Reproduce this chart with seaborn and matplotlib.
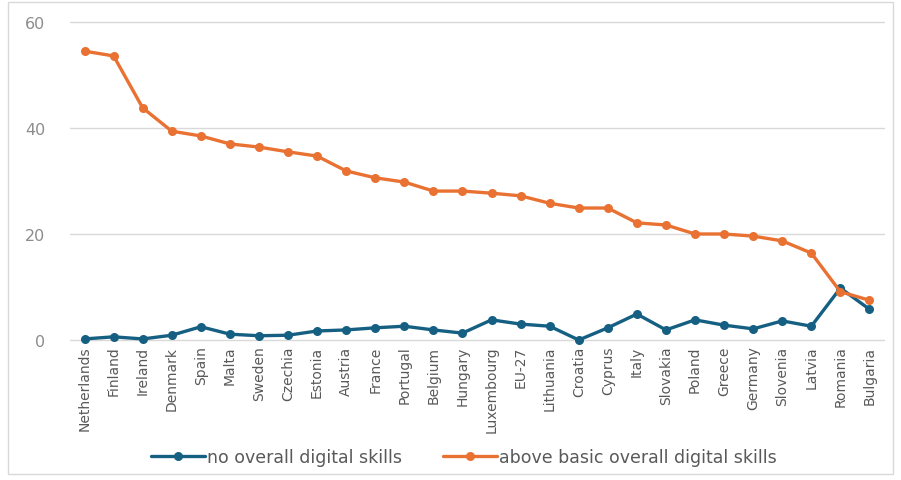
import matplotlib
matplotlib.use("Agg")
import matplotlib.pyplot as plt
from matplotlib.patches import Rectangle
import seaborn as sns
import pandas as pd

countries = [
    "Netherlands", "Finland", "Ireland", "Denmark", "Spain", "Malta", "Sweden",
    "Czechia", "Estonia", "Austria", "France", "Portugal", "Belgium", "Hungary",
    "Luxembourg", "EU-27", "Lithuania", "Croatia", "Cyprus", "Italy", "Slovakia",
    "Poland", "Greece", "Germany", "Slovenia", "Latvia", "Romania", "Bulgaria",
]
no_skills = [
    0.2, 0.6, 0.2, 0.9, 2.5, 1.1, 0.8, 0.9, 1.7, 1.9, 2.3, 2.6, 1.9, 1.3,
    3.8, 3.0, 2.6, 0.0, 2.3, 4.9, 1.9, 3.8, 2.8, 2.1, 3.6, 2.6, 9.8, 5.8,
]
above_basic = [
    54.5, 53.6, 43.8, 39.4, 38.5, 37.0, 36.4, 35.5, 34.7, 31.9, 30.6, 29.8,
    28.1, 28.1, 27.7, 27.2, 25.8, 24.9, 24.9, 22.1, 21.7, 20.0, 20.0, 19.6,
    18.7, 16.4, 9.1, 7.5,
]
series_names = ["no overall digital skills", "above basic overall digital skills"]
series_colors = ["#156082", "#E97132"]
y_ticks = [0, 20, 40, 60]

df = pd.DataFrame({
    "country": countries * 2,
    "value": no_skills + above_basic,
    "series": [series_names[0]] * len(countries) + [series_names[1]] * len(countries),
})
df["pos"] = list(range(len(countries))) * 2

sns.set_theme(style="white")
plt.rcParams["font.family"] = ["Liberation Sans Narrow", "DejaVu Sans"]

fig = plt.figure(figsize=(9.01, 4.81), dpi=100)
ax = fig.add_axes([70 / 901, 1 - 341 / 481, (884 - 70) / 901, (341 - 23) / 481])

# light horizontal gridlines, including the baseline at zero
for t in y_ticks:
    ax.axhline(t, color="#d9d9d9", linewidth=1, zorder=0, clip_on=False)

sns.lineplot(
    data=df, x="pos", y="value", hue="series", hue_order=series_names,
    palette=series_colors, marker="o", markersize=6.5, linewidth=2.4,
    markeredgewidth=0, sort=False, ax=ax, legend=True, clip_on=False,
)

ax.set_xlim(-0.5, len(countries) - 0.5)
ax.set_ylim(0, 60)
ax.set_yticks(y_ticks)
ax.set_xticks(range(len(countries)))
ax.set_xticklabels(countries, rotation=90, fontsize=10, color="#595959")
ax.tick_params(axis="y", labelsize=11.5, labelcolor="#8c8c8c", length=0, pad=18)
ax.tick_params(axis="x", length=0, pad=4)
ax.set_xlabel("")
ax.set_ylabel("")
ax.grid(False)
for side in ["top", "right", "left", "bottom"]:
    ax.spines[side].set_visible(False)
for lbl in ax.get_yticklabels():
    lbl.set_family(["DejaVu Sans"])

handles, labels = ax.get_legend_handles_labels()
ax.legend(
    handles, labels, loc="center", bbox_to_anchor=(464 / 901, 1 - 458 / 481),
    bbox_transform=fig.transFigure, ncol=2, frameon=False, handlelength=3.1,
    columnspacing=2.4, handletextpad=0.1, prop={"family": "DejaVu Sans", "size": 12.5},
    labelcolor="#595959",
)

fig.patches.append(Rectangle((8 / 901, 1 - 475 / 481), (893 - 8) / 901, (475 - 3) / 481,
                             transform=fig.transFigure, fill=False,
                             edgecolor="#d9d9d9", linewidth=1))

fig.savefig("out.png", dpi=100, facecolor="white")
